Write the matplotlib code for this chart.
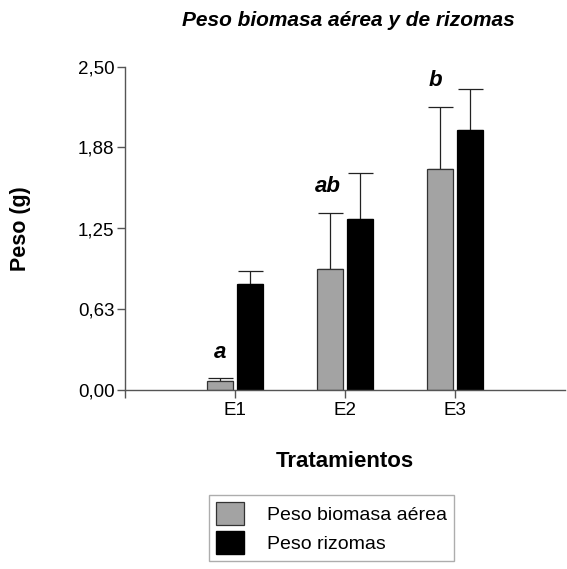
import numpy as np
import matplotlib
matplotlib.use('Agg')
import matplotlib.pyplot as plt
from matplotlib.patches import Patch

plt.rcParams['font.family'] = ['Liberation Sans', 'DejaVu Sans']

# Data
tratamientos = ['E1', 'E2', 'E3']
peso_aerea = [0.07, 0.94, 1.71]
err_aerea = [0.02, 0.43, 0.48]
peso_rizomas = [0.82, 1.32, 2.01]
err_rizomas = [0.10, 0.36, 0.32]
letras = ['a', 'ab', 'b']
yticks = [0.00, 0.63, 1.25, 1.88, 2.50]
ytick_labels = ['0,00', '0,63', '1,25', '1,88', '2,50']

gray = '#a3a3a3'
axis_col = '#555555'

fig = plt.figure(figsize=(5.67, 5.69), dpi=100)
ax = fig.add_axes([125/567, 1 - 390/569, 440/567, 323/569])

x = np.arange(1, len(tratamientos) + 1)
w = 0.235
off = 0.135

ax.bar(x - off, peso_aerea, w, color=gray, edgecolor='#333333', linewidth=0.9, zorder=2)
ax.bar(x + off, peso_rizomas, w, color='black', edgecolor='black', linewidth=0.9, zorder=2)
ax.errorbar(x - off, peso_aerea, yerr=[np.zeros(3), err_aerea], fmt='none',
            ecolor='#222222', elinewidth=0.9, capsize=9, capthick=0.9, zorder=1)
ax.errorbar(x + off, peso_rizomas, yerr=[np.zeros(3), err_rizomas], fmt='none',
            ecolor='#222222', elinewidth=0.9, capsize=9, capthick=0.9, zorder=1)

# significance letters above the aerial biomass bars
for i, (xi, v, e, lt) in enumerate(zip(x, peso_aerea, err_aerea, letras)):
    ax.text(xi - off - 0.02 * i, v + e + 0.16, lt, ha='center', va='baseline',
            fontsize=16, fontweight='bold', fontstyle='italic')

ax.set_xlim(0, 4)
ax.set_ylim(0, 2.5)
ax.set_yticks(yticks)
ax.set_yticklabels(ytick_labels)
ax.set_xticks([0] + list(x))
ax.set_xticklabels([''] + tratamientos)

for s in ['top', 'right']:
    ax.spines[s].set_visible(False)
for s in ['left', 'bottom']:
    ax.spines[s].set_color(axis_col)
    ax.spines[s].set_linewidth(1.0)
ax.tick_params(axis='both', colors=axis_col, length=5.5, width=1.0, labelsize=13.5,
               labelcolor='black', pad=2)
ax.tick_params(axis='x', pad=3)

ax.set_ylabel('Peso (g)', fontsize=15.5, fontweight='bold', labelpad=34)
ax.set_xlabel('Tratamientos', fontsize=16, fontweight='bold', labelpad=23)
fig.text(348/567, 1 - 20/569, 'Peso biomasa aérea y de rizomas', ha='center', va='center',
         fontsize=15, fontweight='bold', fontstyle='italic')

handles = [Patch(facecolor=gray, edgecolor='#333333', linewidth=0.9),
           Patch(facecolor='black', edgecolor='black')]
leg = fig.legend(handles, ['Peso biomasa aérea', 'Peso rizomas'], loc='upper left',
                 bbox_to_anchor=(209/567, 1 - 495/569), fontsize=14,
                 handlelength=1.44, handleheight=1.44, handletextpad=1.18,
                 labelspacing=0.31, borderpad=0.35, borderaxespad=0,
                 frameon=True, fancybox=False)
leg.get_frame().set_edgecolor('#999999')
leg.get_frame().set_linewidth(1.0)

fig.savefig('out.png', dpi=100)
